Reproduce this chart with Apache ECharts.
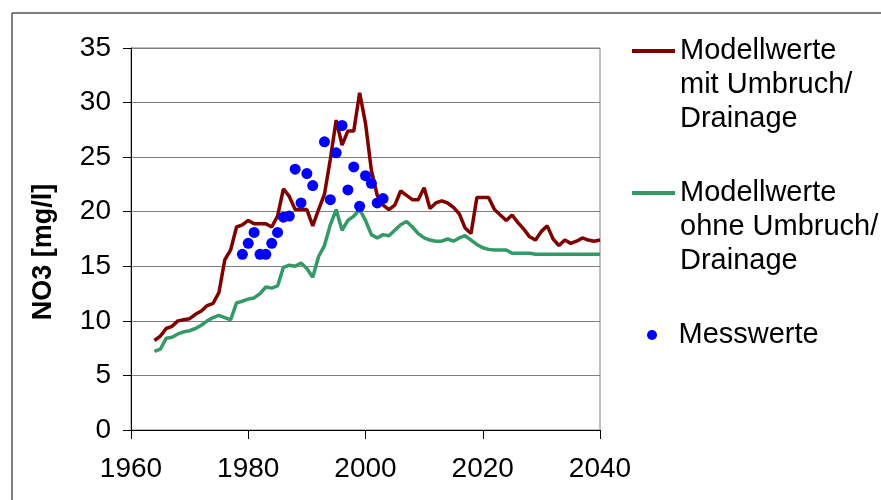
<!DOCTYPE html>
<html>
<head>
<meta charset="utf-8">
<script src="https://cdn.jsdelivr.net/npm/echarts@6/dist/echarts.min.js"></script>
<style>
html,body{margin:0;padding:0;background:#fff;}
#chart{width:881px;height:500px;}
</style>
</head>
<body>
<div id="chart"></div>
<script>
var seriesNames = ['Modellwerte\nmit Umbruch/\nDrainage', 'Modellwerte\nohne Umbruch/\nDrainage', 'Messwerte'];
var yAxisTitle = 'NO3 [mg/l]';
var xTicks = [1960, 1980, 2000, 2020, 2040];
var yTicks = [0, 5, 10, 15, 20, 25, 30, 35];

var modelYears = [1964,1965,1966,1967,1968,1969,1970,1971,1972,1973,1974,1975,1976,1977,1978,1979,1980,1981,1982,1983,1984,1985,1986,1987,1988,1989,1990,1991,1992,1993,1994,1995,1996,1997,1998,1999,2000,2001,2002,2003,2004,2005,2006,2007,2008,2009,2010,2011,2012,2013,2014,2015,2016,2017,2018,2019,2020,2021,2022,2023,2024,2025,2026,2027,2028,2029,2030,2031,2032,2033,2034,2035,2036,2037,2038,2039,2040];

var withDrainage = [8.2,8.6,9.3,9.5,10.0,10.1,10.2,10.6,10.9,11.4,11.6,12.6,15.6,16.5,18.6,18.8,19.2,18.9,18.9,18.9,18.6,19.6,22.1,21.4,20.2,20.2,20.2,18.7,20.2,21.6,24.8,28.4,26.1,27.4,27.4,30.9,28.1,23.8,21.5,20.6,20.2,20.6,21.9,21.5,21.1,21.1,22.2,20.3,20.8,21.0,20.8,20.4,19.8,18.5,18.0,21.3,21.3,21.3,20.2,19.7,19.2,19.7,19.0,18.4,17.7,17.4,18.2,18.7,17.5,16.9,17.4,17.1,17.3,17.6,17.4,17.3,17.4];

var withoutDrainage = [7.2,7.4,8.4,8.5,8.8,9.0,9.1,9.3,9.6,10.0,10.3,10.5,10.3,10.1,11.65,11.8,12.0,12.1,12.5,13.1,13.0,13.2,14.9,15.1,15.0,15.3,14.8,14.0,15.9,16.9,18.8,20.2,18.3,19.2,19.6,20.2,19.2,17.9,17.6,17.9,17.8,18.3,18.8,19.1,18.6,18.0,17.6,17.4,17.3,17.3,17.5,17.3,17.6,17.8,17.4,17.0,16.7,16.55,16.5,16.5,16.5,16.2,16.2,16.2,16.2,16.1,16.1,16.1,16.1,16.1,16.1,16.1,16.1,16.1,16.1,16.1,16.1];

var measYears = [1979,1980,1981,1982,1983,1984,1985,1986,1987,1988,1989,1990,1991,1993,1994,1995,1996,1997,1998,1999,2000,2001,2002,2003];
var measValues = [16.1,17.1,18.1,16.1,16.1,17.1,18.1,19.5,19.6,23.9,20.8,23.5,22.4,26.4,21.1,25.4,27.9,22.0,24.1,20.5,23.3,22.6,20.8,21.2];

function pairs(xs, ys) {
  var out = [];
  for (var i = 0; i < xs.length; i++) out.push([xs[i], ys[i]]);
  return out;
}

var FONT = '"Liberation Sans", Arial, sans-serif';
var legendText = {fontFamily: FONT, fontSize: 29, lineHeight: 34, color: '#000'};
// legend line icon: a 4px bar aligned with the first text line; tiny corner marks fix the path box to 43x102
var lineIcon = 'path://M0,0L0.01,0L0.01,0.01Z M0,15L43,15L43,19L0,19Z M42.99,102L43,102L43,101.99Z';

var chart = echarts.init(document.getElementById('chart'), null, {renderer: 'canvas'});

chart.setOption({
  animation: false,
  backgroundColor: '#ffffff',
  textStyle: {fontFamily: FONT},
  grid: {
    left: 131, right: 281, top: 48, bottom: 70,
    show: true, borderColor: '#808080', borderWidth: 1
  },
  graphic: [
    {type: 'rect', shape: {x: 12, y: 13, width: 900, height: 600}, style: {fill: 'none', stroke: '#000', lineWidth: 1}, silent: true}
  ],
  legend: [
    {
      orient: 'vertical',
      left: 632,
      top: 34,
      padding: 0,
      itemWidth: 43,
      itemHeight: 102,
      itemGap: 40,
      selectedMode: false,
      symbolKeepAspect: true,
      textStyle: legendText,
      data: [
        {name: seriesNames[0], icon: lineIcon},
        {name: seriesNames[1], icon: lineIcon}
      ]
    },
    {
      orient: 'vertical',
      left: 647,
      top: 318,
      padding: 0,
      itemWidth: 43,
      itemHeight: 10,
      selectedMode: false,
      textStyle: legendText,
      data: [
        {name: seriesNames[2], icon: 'circle', itemStyle: {color: '#0000ff', opacity: 1}}
      ]
    }
  ],
  xAxis: {
    type: 'value',
    min: xTicks[0], max: xTicks[xTicks.length - 1], interval: 20,
    axisLine: {show: true, onZero: false, lineStyle: {color: '#000', width: 1}},
    axisTick: {show: true, inside: false, length: 9, lineStyle: {color: '#000'}},
    axisLabel: {fontSize: 28, color: '#000', margin: 25, fontFamily: FONT, formatter: function (v) { return String(v); }},
    splitLine: {show: false}
  },
  yAxis: {
    type: 'value',
    min: yTicks[0], max: yTicks[yTicks.length - 1], interval: 5,
    name: yAxisTitle,
    nameLocation: 'middle',
    nameGap: 74,
    nameTextStyle: {fontSize: 27, fontWeight: 'bold', color: '#000', fontFamily: FONT, padding: [0, 26, 0, 0]},
    axisLine: {show: true, lineStyle: {color: '#000', width: 1}},
    axisTick: {show: true, inside: false, length: 8, lineStyle: {color: '#000'}},
    axisLabel: {fontSize: 28, color: '#000', margin: 20, fontFamily: FONT},
    splitLine: {show: true, lineStyle: {color: '#808080', width: 1}}
  },
  series: [
    {
      name: seriesNames[0], type: 'line', data: pairs(modelYears, withDrainage),
      symbol: 'none', color: '#800000', itemStyle: {color: '#800000'}, lineStyle: {color: '#800000', width: 3.5}, z: 3
    },
    {
      name: seriesNames[1], type: 'line', data: pairs(modelYears, withoutDrainage),
      symbol: 'none', color: '#339966', itemStyle: {color: '#339966'}, lineStyle: {color: '#339966', width: 3.5}, z: 3
    },
    {
      name: seriesNames[2], type: 'scatter', data: pairs(measYears, measValues),
      symbol: 'circle', symbolSize: 11, color: '#0000ff', itemStyle: {color: '#0000ff', opacity: 1}, z: 5
    }
  ]
});
</script>
</body>
</html>
